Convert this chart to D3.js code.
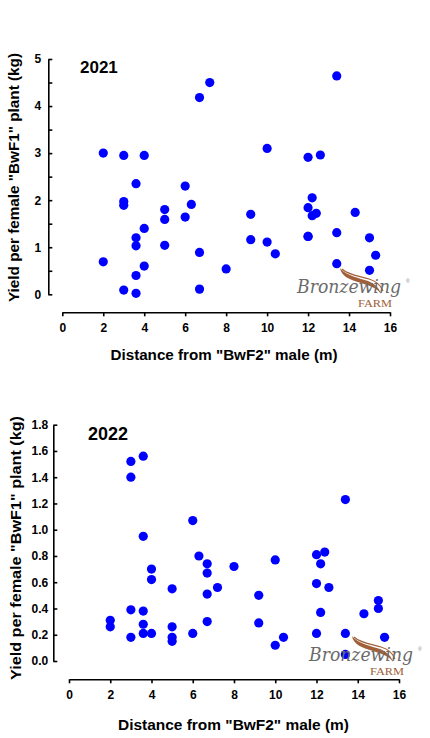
<!DOCTYPE html>
<html>
<head>
<meta charset="utf-8">
<script src="https://cdn.jsdelivr.net/npm/d3@7"></script>
<style>
  body { margin: 0; background: #fff; }
  svg { display: block; }
</style>
</head>
<body>
<script>
// distance (m) and yield (kg)
var dist2021 = [2, 2, 3, 3, 3, 3, 3.6, 3.6, 3.6, 3.6, 3.6, 4, 4, 4,
                5, 5, 5, 6, 6, 6.3, 6.7, 6.7, 6.7, 7.2, 8, 9.2, 9.2, 10, 10, 10.4,
                12, 12, 12, 12, 12.2, 12.2, 12.4, 12.6, 13.4, 13.4, 13.4, 14.3, 15, 15, 15.3];
var yield2021 = [3.0, 0.69, 2.95, 1.97, 1.89, 0.09, 2.35, 1.2, 1.03, 0.4, 0.02, 2.95, 1.4, 0.6,
                 1.8, 1.59, 1.04, 2.3, 1.64, 1.91, 4.18, 0.89, 0.11, 4.5, 0.54, 1.7, 1.16, 3.1, 1.11, 0.86,
                 2.91, 1.84, 1.23, 1.23, 2.05, 1.67, 1.72, 2.96, 4.64, 1.31, 0.65, 1.74, 1.2, 0.51, 0.83];

var dist2022 = [2, 2, 3, 3, 3, 3, 3.6, 3.6, 3.6, 3.6, 3.6, 4, 4, 4,
                5, 5, 5, 5, 6, 6, 6.3, 6.7, 6.7, 6.7, 6.7, 7.2, 8, 9.2, 9.2, 10, 10, 10.4,
                12, 12, 12, 12.2, 12.2, 12.4, 12.6, 13.4, 13.4, 13.4, 14.3, 15, 15, 15.3];
var yield2022 = [0.31, 0.26, 1.52, 1.40, 0.39, 0.18, 1.56, 0.95, 0.38, 0.28, 0.21, 0.70, 0.62, 0.21,
                 0.55, 0.26, 0.18, 0.15, 1.07, 0.21, 0.80, 0.74, 0.67, 0.51, 0.30, 0.56, 0.72, 0.50, 0.29, 0.77, 0.12, 0.18,
                 0.81, 0.59, 0.21, 0.74, 0.37, 0.83, 0.56, 1.23, 0.21, 0.05, 0.36, 0.46, 0.40, 0.18];

var xTicks = [0, 2, 4, 6, 8, 10, 12, 14, 16];
var yTicks2021 = [0, 0.5, 1, 1.5, 2, 2.5, 3, 3.5, 4, 4.5, 5];
var yTicks2022 = [0, 0.2, 0.4, 0.6, 0.8, 1.0, 1.2, 1.4, 1.6, 1.8];

var svg = d3.select("body").append("svg")
            .attr("width", 430)
            .attr("height", 738)
            .style("font-family", "'Liberation Sans', Arial, sans-serif");

function panel(o) {
  var x = d3.scaleLinear().domain([0, 16]).range([o.x0, o.x1]);
  var y = d3.scaleLinear().domain(o.yDomain).range([o.yBot, o.yTop]);

  // y axis, ticks pointing inward
  var ya = svg.append("g")
              .attr("transform", "translate(" + o.yAxisX + ",0)")
              .call(d3.axisLeft(y)
                      .tickValues(o.yTicks)
                      .tickSizeInner(-4)
                      .tickSizeOuter(0)
                      .tickPadding(o.yPad)
                      .tickFormat(o.yFmt));

  // x axis, offset below the data area
  var xa = svg.append("g")
              .attr("transform", "translate(0," + o.xAxisY + ")")
              .call(d3.axisBottom(x)
                      .tickValues(xTicks)
                      .tickSizeInner(4)
                      .tickSizeOuter(0)
                      .tickPadding(7)
                      .tickFormat(d3.format("d")));

  [ya, xa].forEach(function (a) {
    a.select(".domain").attr("stroke", "#000").attr("stroke-width", 1.6);
    a.selectAll(".tick line").attr("stroke", "#000").attr("stroke-width", 1.6);
    a.selectAll(".tick text")
     .attr("fill", "#000")
     .style("font-size", "12px")
     .style("font-weight", "bold");
  });

  svg.append("g").selectAll("circle")
     .data(o.xs)
     .enter()
     .append("circle")
     .attr("cx", function (d) { return x(d); })
     .attr("cy", function (d, i) { return y(o.ys[i]); })
     .attr("r", 4.6)
     .attr("fill", "#0000ff");

  svg.append("text")
     .attr("x", o.titleX)
     .attr("y", o.titleY)
     .style("font-size", o.titleSize + "px")
     .style("font-weight", "bold")
     .text(o.title);

  svg.append("text")
     .attr("transform", "translate(" + o.ylabX + "," + o.ylabY + ") rotate(-90)")
     .attr("text-anchor", "middle")
     .attr("textLength", o.ylabLen)
     .attr("lengthAdjust", "spacingAndGlyphs")
     .style("font-size", o.ylabSize + "px")
     .style("font-weight", "bold")
     .text('Yield per female "BwF1" plant (kg)');

  svg.append("text")
     .attr("x", o.xlabX)
     .attr("y", o.xlabY)
     .attr("text-anchor", "middle")
     .attr("textLength", o.xlabLen)
     .attr("lengthAdjust", "spacingAndGlyphs")
     .style("font-size", "14px")
     .style("font-weight", "bold")
     .text('Distance from "BwF2" male (m)');
}

function logo(px, py) {
  var g = svg.append("g").attr("transform", "translate(" + px + "," + py + ")");
  // brown feather swoosh
  g.append("path")
   .attr("d", "M45,-12 C46,-4 55,0 66,3 C76,6 83,9 86,14 C84,6 76,1 66,-1 C56,-4 49,-7 45,-12 Z")
   .attr("fill", "#a0603a");
  g.append("path")
   .attr("d", "M47,-11 C53,-5 64,-4 74,-1 C81,1 86,6 88,11")
   .attr("fill", "none")
   .attr("stroke", "#a0603a")
   .attr("stroke-width", 1.1);
  g.append("text")
   .attr("x", 2).attr("y", 13)
   .attr("textLength", 104).attr("lengthAdjust", "spacingAndGlyphs")
   .style("font-family", "'DejaVu Serif', serif")
   .style("font-style", "italic")
   .style("font-size", "19px")
   .attr("fill", "#6b6b6b")
   .text("Bronzewing");
  g.append("text")
   .attr("x", 63).attr("y", 27)
   .attr("textLength", 34).attr("lengthAdjust", "spacingAndGlyphs")
   .style("font-family", "'Liberation Serif', serif")
   .style("font-size", "10px")
   .attr("fill", "#a0603a")
   .text("FARM");
  g.append("text")
   .attr("x", 111).attr("y", 3)
   .style("font-size", "5px")
   .attr("fill", "#888")
   .text("®");
}

panel({
  xs: dist2021, ys: yield2021, yDomain: [0, 5], yTicks: yTicks2021,
  yFmt: function (d) { return d % 1 === 0 ? d : ""; },
  x0: 62.3, x1: 390, yBot: 294.3, yTop: 59,
  yAxisX: 48.3, yPad: 7, xAxisY: 312.3,
  title: "2021", titleX: 80, titleY: 72.5, titleSize: 17,
  ylabX: 18.5, ylabY: 177.5, ylabSize: 14, ylabLen: 249,
  xlabX: 224, xlabY: 360, xlabLen: 227
});
logo(295, 280);

panel({
  xs: dist2022, ys: yield2022, yDomain: [0, 1.8], yTicks: yTicks2022,
  yFmt: d3.format(".1f"),
  x0: 69, x1: 399, yBot: 661, yTop: 424.7,
  yAxisX: 53.3, yPad: 5, xAxisY: 679.3,
  title: "2022", titleX: 88, titleY: 440, titleSize: 18,
  ylabX: 21, ylabY: 548, ylabSize: 15, ylabLen: 264,
  xlabX: 233.5, xlabY: 730, xlabLen: 231
});
logo(307, 648);
</script>
</body>
</html>
